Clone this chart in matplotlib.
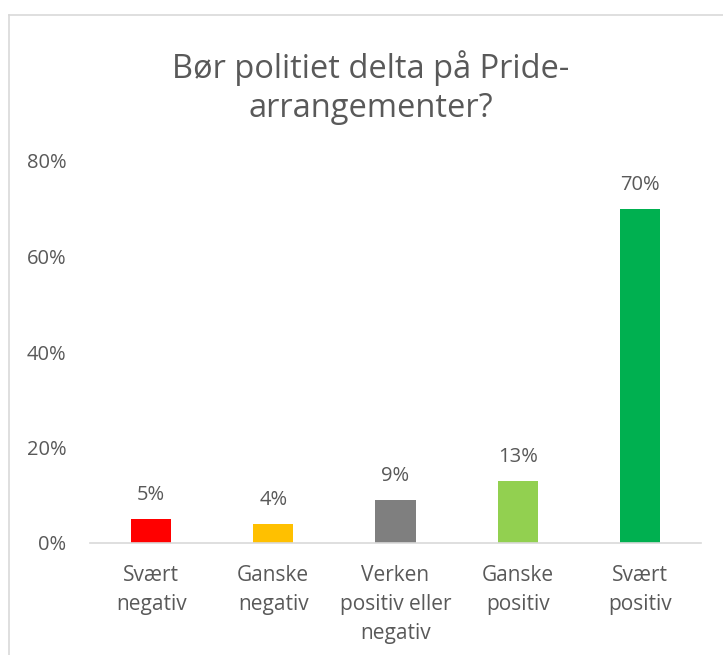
import matplotlib.pyplot as plt
from matplotlib.lines import Line2D
from matplotlib.ticker import PercentFormatter

# data
kategorier = ['Svært\nnegativ', 'Ganske\nnegativ', 'Verken\npositiv eller\nnegativ',
              'Ganske\npositiv', 'Svært\npositiv']
andel = [0.05, 0.04, 0.09, 0.13, 0.70]
farger = ['#FF0000', '#FFC000', '#7F7F7F', '#92D050', '#00B050']
tittel = 'Bør politiet delta på Pride-\narrangementer?'

plt.rcParams['font.family'] = ['Open Sans', 'DejaVu Sans']
tekstfarge = '#595959'

fig = plt.figure(figsize=(7.23, 6.55), dpi=100)
ax = fig.add_axes([90 / 723, 112 / 655, 611 / 723, 382 / 655])

x = range(len(kategorier))
bars = ax.bar(x, andel, width=0.33, color=farger)

for b, v in zip(bars, andel):
    ax.annotate('{:.0%}'.format(v), (b.get_x() + b.get_width() / 2, v),
                xytext=(0, 10), textcoords='offset points',
                ha='center', va='bottom', fontsize=14.5, color=tekstfarge)

ax.set_xlim(-0.5, len(kategorier) - 0.5)
ax.set_ylim(0, 0.8)
ax.set_yticks([0, 0.2, 0.4, 0.6, 0.8])
ax.yaxis.set_major_formatter(PercentFormatter(1.0, decimals=0))
ax.set_xticks(list(x))
ax.set_xticklabels(kategorier, linespacing=1.5)

ax.tick_params(axis='y', length=0, pad=17, labelsize=14.5, labelcolor=tekstfarge)
ax.tick_params(axis='x', length=0, pad=16, labelsize=15, labelcolor=tekstfarge)

for s in ['top', 'right', 'left']:
    ax.spines[s].set_visible(False)
ax.spines['bottom'].set_color('#D9D9D9')
ax.spines['bottom'].set_linewidth(1.2)

fig.text(371 / 723, 1 - 50 / 655, tittel, ha='center', va='top',
         fontsize=23.5, color=tekstfarge, linespacing=1.25)

# ramme rundt diagrammet
rammefarge = '#D9D9D9'
fig.add_artist(Line2D([8.5 / 723, 8.5 / 723], [0, 1 - 15 / 655],
                      transform=fig.transFigure, color=rammefarge, lw=1.2))
fig.add_artist(Line2D([8.5 / 723, 1], [1 - 15 / 655, 1 - 15 / 655],
                      transform=fig.transFigure, color=rammefarge, lw=1.2))

fig.savefig('out.png', dpi=100)
